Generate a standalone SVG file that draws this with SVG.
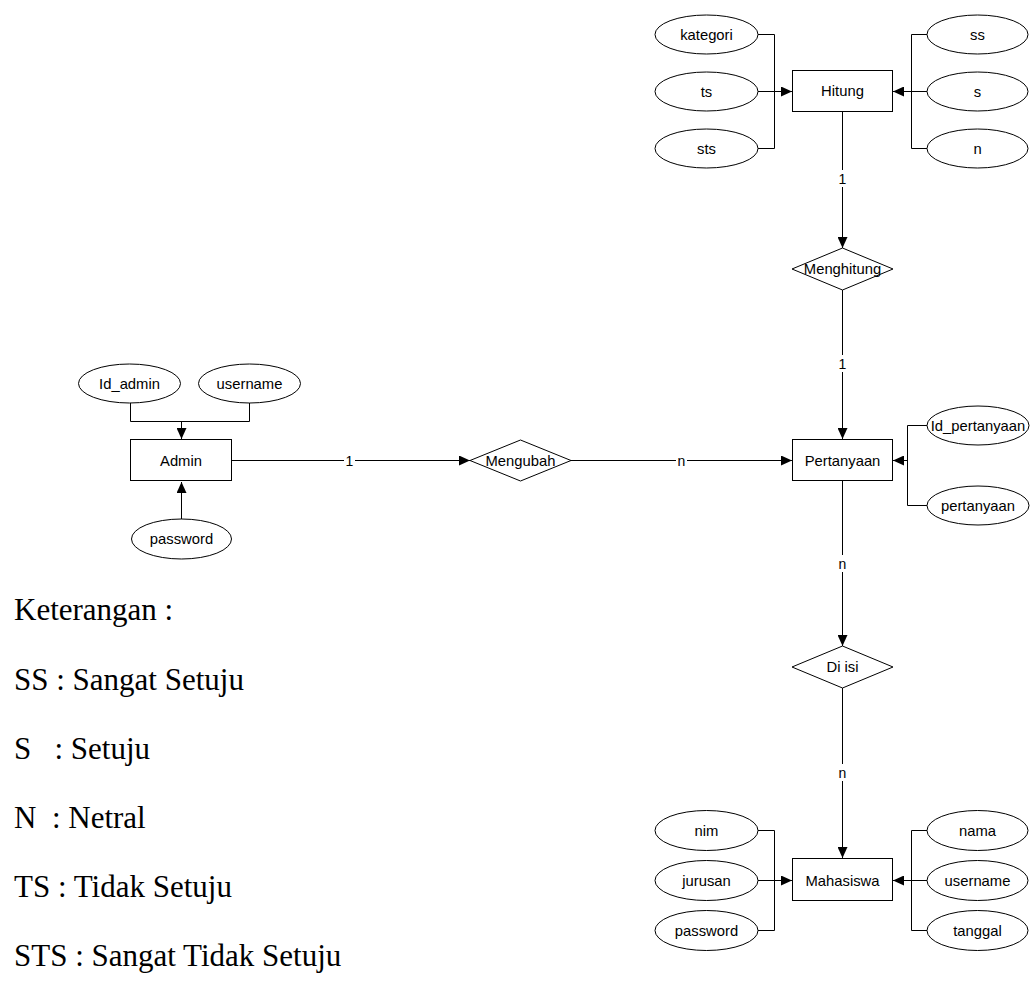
<svg xmlns="http://www.w3.org/2000/svg" width="1030" height="993" viewBox="0 0 1030 993">
<defs>
<marker id="arr" markerUnits="userSpaceOnUse" markerWidth="12" markerHeight="10" refX="11" refY="5" orient="auto">
<path d="M0,0 L11,5 L0,10 Z" fill="#000"/>
</marker>
<style>
.shape{fill:#fff;stroke:#000;stroke-width:1}
.lbl{font-family:"Liberation Sans",Arial,sans-serif;font-size:14.8px;fill:#000;text-anchor:middle}
.elbl{font-family:"Liberation Sans",Arial,sans-serif;font-size:14px;fill:#000;text-anchor:middle}
.ln{fill:none;stroke:#000;stroke-width:1}
.la{fill:none;stroke:#000;stroke-width:1;marker-end:url(#arr)}
.bg{fill:#fff}
.leg{font-family:"Liberation Serif","Times New Roman",serif;font-size:31px;fill:#000}
</style>
</defs>
<rect width="1030" height="993" fill="#fff"/>

<g id="connectors">
<path class="ln" d="M758,34.5 H774.5 V148.5 H758"/>
<path class="la" d="M758,91.5 H792"/>
<path class="ln" d="M927,34.5 H911.5 V148.5 H927"/>
<path class="la" d="M927,91.5 H893"/>
<path class="la" d="M842.5,112 V248"/>
<path class="la" d="M842.5,290 V439"/>
<path class="ln" d="M927,425.5 H907.5 V505.5 H927"/>
<path class="la" d="M907.5,460.5 H893"/>
<path class="ln" d="M130.5,403 V421.5 H249.5 V403"/>
<path class="la" d="M181.5,421.5 V439"/>
<path class="la" d="M181.5,519 V482"/>
<path class="la" d="M232,460.5 H470"/>
<path class="la" d="M571,460.5 H792"/>
<path class="la" d="M842.5,481 V646"/>
<path class="la" d="M842.5,688 V858"/>
<path class="ln" d="M758,830.5 H774.5 V930.5 H758"/>
<path class="la" d="M758,880.5 H792"/>
<path class="ln" d="M927,830.5 H911.5 V930.5 H927"/>
<path class="la" d="M927,880.5 H893"/>
<rect class="bg" x="837" y="170" width="11" height="17"/>
<text class="elbl" x="842.5" y="184">1</text>
<rect class="bg" x="837" y="355" width="11" height="17"/>
<text class="elbl" x="842.5" y="369">1</text>
<rect class="bg" x="344" y="452" width="11" height="17"/>
<text class="elbl" x="349.5" y="465.5">1</text>
<rect class="bg" x="676" y="452" width="11" height="17"/>
<text class="elbl" x="681.5" y="465.5">n</text>
<rect class="bg" x="837" y="555" width="11" height="17"/>
<text class="elbl" x="842.5" y="569">n</text>
<rect class="bg" x="837" y="764" width="11" height="17"/>
<text class="elbl" x="842.5" y="778">n</text>
</g>

<g id="hitung"><rect class="shape" x="792.5" y="70.5" width="100" height="41"/><text class="lbl" x="842.5" y="96">Hitung</text></g>
<g id="attr-kategori"><ellipse class="shape" cx="706.5" cy="34.5" rx="51.5" ry="19.5"/><text class="lbl" x="706.5" y="39.5">kategori</text></g>
<g id="attr-ts"><ellipse class="shape" cx="706.5" cy="91.5" rx="51.5" ry="19.5"/><text class="lbl" x="706.5" y="96.5">ts</text></g>
<g id="attr-sts"><ellipse class="shape" cx="706.5" cy="148.5" rx="51.5" ry="19.5"/><text class="lbl" x="706.5" y="153.5">sts</text></g>
<g id="attr-ss"><ellipse class="shape" cx="977.5" cy="34.5" rx="50.5" ry="19.5"/><text class="lbl" x="977.5" y="39.5">ss</text></g>
<g id="attr-s"><ellipse class="shape" cx="977.5" cy="91.5" rx="50.5" ry="19.5"/><text class="lbl" x="977.5" y="96.5">s</text></g>
<g id="attr-n"><ellipse class="shape" cx="977.5" cy="148.5" rx="50.5" ry="19.5"/><text class="lbl" x="977.5" y="153.5">n</text></g>

<g id="menghitung"><polygon class="shape" points="792,269 842.5,248 893,269 842.5,290"/><text class="lbl" x="842.5" y="274">Menghitung</text></g>

<g id="pertanyaan"><rect class="shape" x="792.5" y="439.5" width="100" height="41"/><text class="lbl" x="842.5" y="465.5">Pertanyaan</text></g>
<g id="attr-id-pertanyaan"><ellipse class="shape" cx="978" cy="425.5" rx="51" ry="19.5"/><text class="lbl" x="978" y="430.5">Id_pertanyaan</text></g>
<g id="attr-pertanyaan"><ellipse class="shape" cx="978" cy="505.5" rx="51" ry="19.5"/><text class="lbl" x="978" y="510.5">pertanyaan</text></g>

<g id="admin"><rect class="shape" x="130.5" y="439.5" width="101" height="41"/><text class="lbl" x="181" y="465.5">Admin</text></g>
<g id="attr-id-admin"><ellipse class="shape" cx="129.5" cy="383.5" rx="51" ry="19.5"/><text class="lbl" x="129.5" y="388.5">Id_admin</text></g>
<g id="attr-username-admin"><ellipse class="shape" cx="249.5" cy="383.5" rx="51" ry="19.5"/><text class="lbl" x="249.5" y="388.5">username</text></g>
<g id="attr-password-admin"><ellipse class="shape" cx="181.5" cy="539" rx="50" ry="20"/><text class="lbl" x="181.5" y="544">password</text></g>

<g id="mengubah"><polygon class="shape" points="470,460.5 520.5,440 571,460.5 520.5,481"/><text class="lbl" x="520.5" y="465.5">Mengubah</text></g>

<g id="di-isi"><polygon class="shape" points="792,667 842.5,646 893,667 842.5,688"/><text class="lbl" x="842.5" y="672">Di isi</text></g>

<g id="mahasiswa"><rect class="shape" x="792.5" y="858.5" width="100" height="42"/><text class="lbl" x="842.5" y="885.5">Mahasiswa</text></g>
<g id="attr-nim"><ellipse class="shape" cx="706.5" cy="830.5" rx="51.5" ry="20"/><text class="lbl" x="706.5" y="835.5">nim</text></g>
<g id="attr-jurusan"><ellipse class="shape" cx="706.5" cy="880.5" rx="51.5" ry="20"/><text class="lbl" x="706.5" y="885.5">jurusan</text></g>
<g id="attr-password-mhs"><ellipse class="shape" cx="706.5" cy="930.5" rx="51.5" ry="20"/><text class="lbl" x="706.5" y="935.5">password</text></g>
<g id="attr-nama"><ellipse class="shape" cx="977.5" cy="830.5" rx="50.5" ry="20"/><text class="lbl" x="977.5" y="835.5">nama</text></g>
<g id="attr-username-mhs"><ellipse class="shape" cx="977.5" cy="880.5" rx="50.5" ry="20"/><text class="lbl" x="977.5" y="885.5">username</text></g>
<g id="attr-tanggal"><ellipse class="shape" cx="977.5" cy="930.5" rx="50.5" ry="20"/><text class="lbl" x="977.5" y="935.5">tanggal</text></g>

<g id="legend">
<text class="leg" x="14" y="620">Keterangan :</text>
<text class="leg" x="14" y="690" xml:space="preserve">SS : Sangat Setuju</text>
<text class="leg" x="14" y="759" xml:space="preserve">S   : Setuju</text>
<text class="leg" x="14" y="828" xml:space="preserve">N  : Netral</text>
<text class="leg" x="14" y="897" xml:space="preserve">TS : Tidak Setuju</text>
<text class="leg" x="14" y="966" xml:space="preserve">STS : Sangat Tidak Setuju</text>
</g>
</svg>
